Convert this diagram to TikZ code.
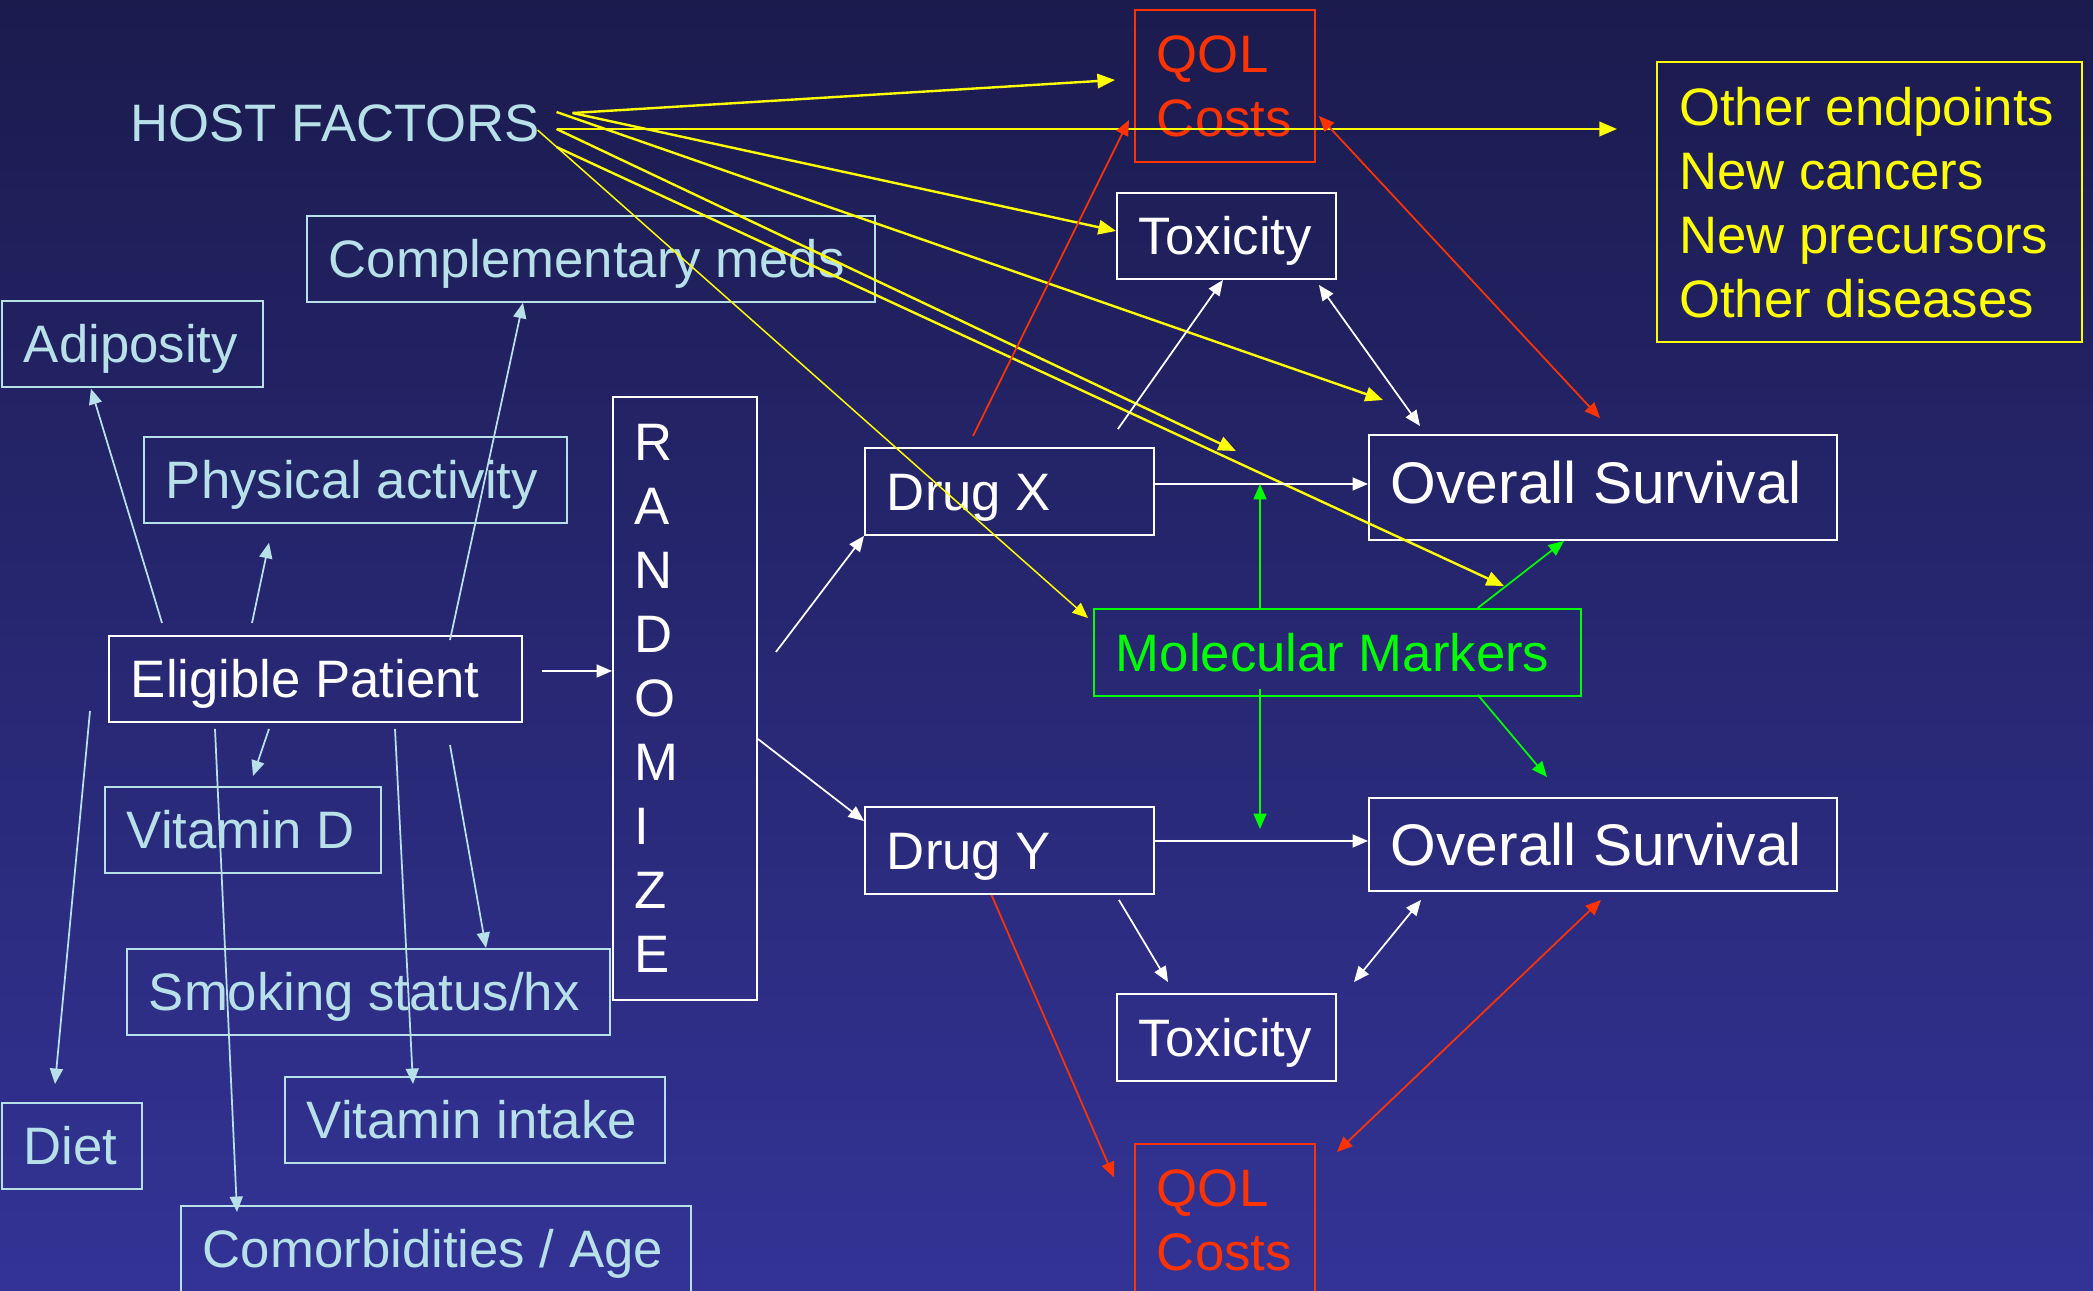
\documentclass[tikz,border=0pt]{standalone}
\usepackage{fontspec}
\setmainfont{Liberation Sans}
\usepackage{tikz}
\usetikzlibrary{arrows.meta,calc,positioning}
\definecolor{bgtop}{RGB}{27,27,78}
\definecolor{bgbottom}{RGB}{51,51,150}
\definecolor{hostcol}{RGB}{183,224,232}
\definecolor{qolred}{RGB}{255,51,0}
\definecolor{endyellow}{RGB}{255,255,0}
\definecolor{markgreen}{RGB}{0,255,0}
\newcommand{\hostfactor}[4]{%
    \node[factorbox, text width=#3] (#1) at (#2) {#4};
}

\begin{document}
\begin{tikzpicture}[
            x=1cm, y=-1cm,
            font=\fontsize{15}{18.2}\selectfont,
            box/.style={rectangle, anchor=north west,
                inner xsep=2.2mm, inner ysep=0pt,
                minimum height=8.6mm,
                text height=10.7pt, text depth=0pt,
                align=flush left,
            },
            factorbox/.style={box, draw=hostcol, text=hostcol, line width=0.5pt},
            whitebox/.style={box, draw=white, text=white, line width=0.55pt},
            survbox/.style={whitebox, font=\fontsize{16.7}{20}\selectfont,
                text height=12pt, text depth=0pt},
            stackbox/.style={rectangle, anchor=north west,
                inner xsep=2.2mm, inner ysep=0pt, align=flush left},
            costbox/.style={stackbox, draw=qolred, text=qolred, line width=0.55pt,
                minimum height=15.2mm, text width=13.6mm},
            onetip/.style={-{Triangle[length=4.4pt, width=3.7pt]}},
            twotips/.style={{Triangle[length=4.4pt, width=3.7pt]}-{Triangle[length=4.4pt, width=3.7pt]}},
            hostarrow/.style={draw=endyellow, line width=0.68pt, -{Triangle[length=5pt, width=4.1pt]}},
            thinhost/.style={draw=endyellow, line width=0.42pt, onetip},
            factorarrow/.style={draw=hostcol, line width=0.5pt, onetip},
            flowarrow/.style={draw=white, line width=0.5pt, onetip},
            bothflow/.style={draw=white, line width=0.5pt, twotips},
            markarrow/.style={draw=markgreen, line width=0.5pt, onetip},
            costarrow/.style={draw=qolred, line width=0.5pt, onetip},
            bothcost/.style={draw=qolred, line width=0.5pt, twotips},
        ]
            \useasboundingbox (0,0) rectangle (20.93,12.90);
            \shade[top color=bgtop, bottom color=bgbottom] (0,0) rectangle (20.93,12.90);

            \node[text=hostcol, anchor=west, inner sep=0pt, text height=10.7pt, text depth=0pt] (host) at (1.30,1.23) {HOST FACTORS};
            \node[costbox] (qolA) at (11.34,0.09) {QOL\\Costs};
            \node[stackbox, draw=endyellow, text=endyellow, line width=0.7pt, minimum height=28mm, text width=3.81cm] (other) at (16.56,0.61) {Other endpoints\\New cancers\\New precursors\\Other diseases};
            \node[whitebox, text width=1.75cm] (toxA) at (11.16,1.92) {Toxicity};
            \hostfactor{comp}{3.06,2.15}{5.24cm}{Complementary meds}
            \hostfactor{adip}{0.01,3.00}{2.17cm}{Adiposity}
            \hostfactor{phys}{1.43,4.36}{3.79cm}{Physical activity}
            \node[stackbox, draw=white, text=white, line width=0.55pt, minimum height=60.3mm, text width=1.00cm] (rand) at (6.12,3.96) {R\\A\\N\\D\\O\\M\\I\\Z\\E};
            \node[whitebox, text width=2.45cm, minimum height=8.7mm] (drugX) at (8.64,4.47) {Drug X};
            \node[survbox, text width=4.24cm, minimum height=10.5mm, text depth=3pt] (osA) at (13.68,4.34) {Overall Survival};
            \node[box, draw=markgreen, text=markgreen, line width=0.5pt, text width=4.43cm, minimum height=8.7mm] (mm) at (10.93,6.08) {Molecular Markers};
            \node[whitebox, text width=3.69cm] (elig) at (1.08,6.35) {Eligible Patient};
            \hostfactor{vitd}{1.04,7.86}{2.32cm}{Vitamin D}
            \node[whitebox, text width=2.45cm, minimum height=8.7mm] (drugY) at (8.64,8.06) {Drug Y};
            \node[survbox, text width=4.24cm, minimum height=9.3mm] (osB) at (13.68,7.97) {Overall Survival};
            \hostfactor{smok}{1.26,9.48}{4.39cm}{Smoking status/hx}
            \node[whitebox, text width=1.75cm, minimum height=8.7mm] (toxB) at (11.16,9.93) {Toxicity};
            \hostfactor{vint}{2.84,10.76}{3.36cm}{Vitamin intake}
            \hostfactor{diet}{0.01,11.02}{0.96cm}{Diet}
            \node[costbox] (qolB) at (11.34,11.43) {QOL\\Costs};
            \hostfactor{comor}{1.80,12.05}{4.66cm}{Comorbidities / Age}

            \coordinate (hfa) at ([xshift=3.2mm,yshift=1mm]host.east);
            \coordinate (hfb) at ([xshift=1.6mm,yshift=1.1mm]host.east);
            \coordinate (hfc) at ([xshift=1.6mm,yshift=-0.6mm]host.east);
            \coordinate (hfd) at ([xshift=1.6mm,yshift=-2.4mm]host.east);
            \coordinate (hfe) at ([xshift=-0.3mm,yshift=-0.7mm]host.east);
            \coordinate (xout) at ([yshift=0.75mm]drugX.east);
            \coordinate (yout) at ([yshift=0.95mm]drugY.east);
            \coordinate (xmod) at ([xshift=8.1mm,yshift=-0.4mm]drugX.north east);
            \coordinate (mmod) at ([xshift=41.1mm,yshift=2.2mm]mm.north west);
            \coordinate (epout) at ([xshift=1.9mm,yshift=0.8mm]elig.east);
            \coordinate (mmtop) at ([xshift=16.7mm]mm.north west);
            \coordinate (mmbot) at ([xshift=16.7mm,yshift=0.8mm]mm.south west);

            \draw[hostarrow] (hfa) -- ([xshift=-1.9mm,yshift=0.6mm]qolA.west);
            \draw[hostarrow, shorten >=3.9mm] (hfc) -- (hfc -| other.west);
            \draw[hostarrow] (hfa) -- ([yshift=0.5mm]toxA.west);
            \draw[hostarrow] (hfb) -- ([xshift=1.5mm,yshift=3.4mm]osA.north west);
            \draw[hostarrow] (hfc) -- (xmod);
            \draw[hostarrow] (hfd) -- (mmod);
            \draw[thinhost] (hfe) -- ([xshift=-0.5mm,yshift=-1mm]mm.north west);

            \draw[costarrow] ([xshift=10.9mm,yshift=1.1mm]drugX.north west) -- ([xshift=-0.5mm,yshift=4.3mm]qolA.south west);
            \draw[bothcost] ([xshift=0.3mm,yshift=-3mm]qolA.east) -- ([xshift=-0.3mm,yshift=1.6mm]osA.north);
            \draw[costarrow] ([xshift=12.75mm]drugY.south west) -- ([xshift=-2mm,yshift=-3.45mm]qolB.north west);
            \draw[bothcost] ([xshift=-0.2mm,yshift=-0.8mm]osB.south) -- ([xshift=2.1mm,yshift=-0.9mm]qolB.north east);

            \draw[flowarrow] (epout) -- (epout -| rand.west);
            \draw[flowarrow] ([xshift=1.8mm,yshift=4.65mm]rand.east) -- (drugX.south west);
            \draw[flowarrow] ([yshift=-4.05mm]rand.east) -- ([yshift=-1.5mm]drugY.north west);
            \draw[flowarrow] (xout) -- (xout -| osA.west);
            \draw[flowarrow] (yout) -- (yout -| osB.west);
            \draw[flowarrow] ([xshift=-3.7mm,yshift=1.8mm]drugX.north east) -- ([xshift=-0.35mm]toxA.south);
            \draw[bothflow] ([xshift=-1.8mm,yshift=-0.5mm]toxA.south east) -- ([xshift=5.2mm,yshift=0.8mm]osA.north west);
            \draw[flowarrow] ([xshift=-3.6mm,yshift=-0.5mm]drugY.south east) -- ([xshift=5.2mm,yshift=1.1mm]toxB.north west);
            \draw[bothflow] ([xshift=1.7mm,yshift=1.1mm]toxB.north east) -- ([xshift=5.3mm,yshift=-0.8mm]osB.south west);

            \draw[markarrow] (mmtop) -- (mmtop |- xout);
            \draw[markarrow, shorten >=1.2mm] (mmbot) -- (mmbot |- yout);
            \draw[markarrow] ([xshift=-10.4mm]mm.north east) -- ([xshift=19.6mm]osA.south west);
            \draw[markarrow] ([xshift=-10.4mm,yshift=0.2mm]mm.south east) -- ([xshift=17.9mm,yshift=2mm]osB.north west);

            \draw[factorarrow] ([xshift=5.4mm,yshift=1.2mm]elig.north west) -- ([xshift=9mm,yshift=-0.1mm]adip.south west);
            \draw[factorarrow] ([xshift=14.4mm,yshift=1.2mm]elig.north west) -- ([xshift=12.6mm,yshift=-1.9mm]phys.south west);
            \draw[factorarrow] ([xshift=34.2mm,yshift=-0.5mm]elig.north west) -- ([xshift=21.7mm]comp.south west);
            \draw[factorarrow] ([xshift=16.1mm,yshift=-0.6mm]elig.south west) -- ([xshift=14.9mm,yshift=1mm]vitd.north west);
            \draw[factorarrow] ([xshift=-1.8mm,yshift=1.2mm]elig.south west) -- ([xshift=5.4mm,yshift=1.8mm]diet.north west);
            \draw[factorarrow] ([xshift=10.7mm,yshift=-0.6mm]elig.south west) -- ([xshift=5.7mm,yshift=-0.7mm]comor.north west);
            \draw[factorarrow] ([xshift=28.7mm,yshift=-0.6mm]elig.south west) -- ([xshift=12.9mm,yshift=-0.8mm]vint.north west);
            \draw[factorarrow] ([xshift=34.2mm,yshift=-2.2mm]elig.south west) -- ([xshift=36mm]smok.north west);
        \end{tikzpicture}
\end{document}
